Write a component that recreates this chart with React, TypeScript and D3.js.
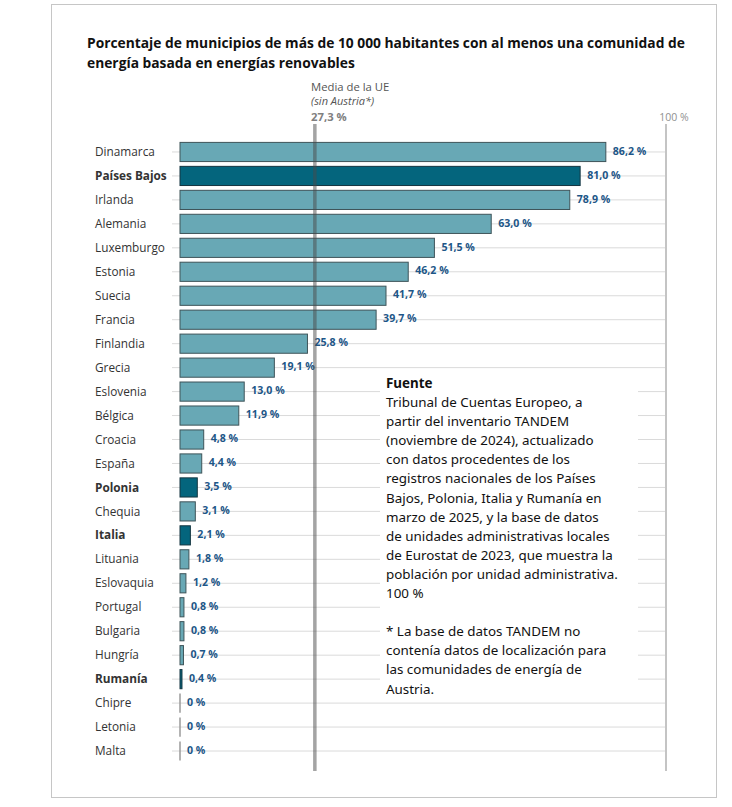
import React from "react";
import * as d3 from "d3";

const countries = ["Dinamarca","Países Bajos","Irlanda","Alemania","Luxemburgo","Estonia","Suecia","Francia","Finlandia","Grecia","Eslovenia","Bélgica","Croacia","España","Polonia","Chequia","Italia","Lituania","Eslovaquia","Portugal","Bulgaria","Hungría","Rumanía","Chipre","Letonia","Malta"];
const values = [86.2,81.0,78.9,63.0,51.5,46.2,41.7,39.7,25.8,19.1,13.0,11.9,4.8,4.4,3.5,3.1,2.1,1.8,1.2,0.8,0.8,0.7,0.4,0,0,0];
const highlighted = ["Países Bajos","Polonia","Italia","Rumanía"];
const euMean = 27.3;
const titleLines = ["Porcentaje de municipios de más de 10 000 habitantes con al menos una comunidad de","energía basada en energías renovables"];
const sourceLines = ["Tribunal de Cuentas Europeo, a","partir del inventario TANDEM","(noviembre de 2024), actualizado","con datos procedentes de los","registros nacionales de los Países","Bajos, Polonia, Italia y Rumanía en","marzo de 2025, y la base de datos","de unidades administrativas locales","de Eurostat de 2023, que muestra la","población por unidad administrativa.","100 %","","* La base de datos TANDEM no","contenía datos de localización para","las comunidades de energía de","Austria."];

const fmt = (v: number) => (v === 0 ? "0 %" : v.toFixed(1).replace(".", ",") + " %");

export default function App() {
  const W = 732, H = 807;
  const x = d3.scaleLinear().domain([0, 100]).range([180, 674]);
  const y = d3.scaleBand().domain(countries).range([140, 763]).paddingInner(0.2).paddingOuter(0.1);
  const bw = y.bandwidth();
  const font = "'Open Sans', sans-serif";
  const lineTop = 124, lineBottom = 771;
  const x100 = x(100) - 8;
  return (
    <svg width={W} height={H} style={{ position: "absolute", left: 0, top: 0 }} fontFamily={font}>
      <rect x={0} y={0} width={W} height={H} fill="#fff" />
      <rect x={51.5} y={4.5} width={665} height={793} fill="none" stroke="#c6c6c6" />
      {titleLines.map((t, i) => (
        <text key={i} x={87} y={48 + i * 20} fontSize={13.8} fontWeight={700} fill="#111">{t}</text>
      ))}
      <text x={311} y={91} fontSize={11.3} fill="#555">Media de la UE</text>
      <text x={311} y={105} fontSize={11} fontStyle="italic" fill="#555">(sin Austria*)</text>
      <text x={311} y={121} fontSize={11.3} fontWeight={700} fill="#808080">{fmt(euMean)}</text>
      <text x={x(100)} y={121} fontSize={10.5} fill="#909090" textAnchor="middle">100 %</text>
      {countries.map((c) => {
        const cy = (y(c) as number) + bw / 2;
        return <line key={"g" + c} x1={172} x2={x100} y1={cy} y2={cy} stroke="#dadada" strokeWidth={1} />;
      })}
      <line x1={x100} x2={x100} y1={lineTop} y2={lineBottom} stroke="#c4c4c4" strokeWidth={2} />
      {countries.map((c, i) => {
        const hi = highlighted.includes(c);
        const cy = (y(c) as number) + bw / 2;
        const v = values[i];
        return (
          <g key={c}>
            <text x={95} y={cy} dy="0.35em" fontSize={11.8} fontWeight={hi ? 700 : 400} fill="#333">{c}</text>
            {v > 0 ? (
              <rect x={x(0)} y={y(c) as number} width={x(v) - x(0)} height={bw}
                fill={hi ? "#04657d" : "#68a8b5"} stroke={hi ? "#143540" : "#3e5459"} strokeWidth={1} />
            ) : (
              <line x1={x(0)} x2={x(0)} y1={y(c) as number} y2={(y(c) as number) + bw} stroke="#9a9a9a" strokeWidth={1.5} />
            )}
            <text x={x(v) + 7} y={cy - 1} dy="0.35em" fontSize={10.6} fontWeight={700} fill="#1d5687">{fmt(v)}</text>
          </g>
        );
      })}
      <line x1={x(euMean)} x2={x(euMean)} y1={lineTop} y2={lineBottom} stroke="#4a4a4a" strokeOpacity={0.5} strokeWidth={3.5} />
      <rect x={380} y={371} width={258} height={327} fill="#fff" />
      <text x={386} y={388} fontSize={13.4} fontWeight={700} fill="#111" fontFamily="'Noto Sans', sans-serif">Fuente</text>
      {sourceLines.map((t, i) => (
        <text key={i} x={386} y={407 + i * 19.1} fontSize={13.4} fill="#111" fontFamily="'Noto Sans', sans-serif">{t}</text>
      ))}
    </svg>
  );
}
